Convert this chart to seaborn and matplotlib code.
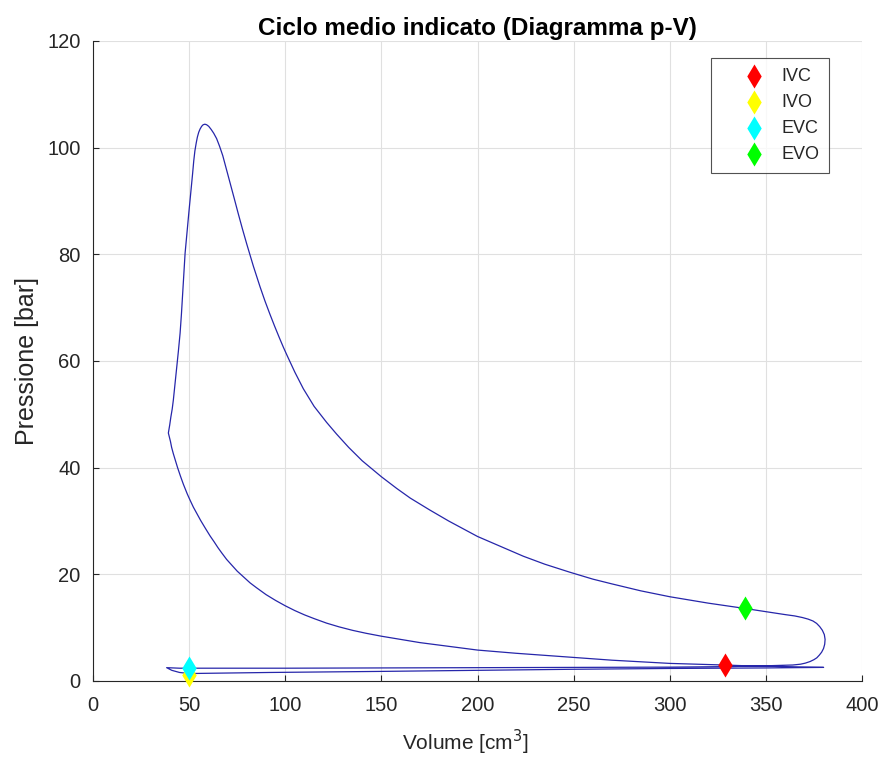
import matplotlib
matplotlib.use("Agg")
import matplotlib.pyplot as plt
import seaborn as sns
import pandas as pd

# ---- data ----
# compression (BDC -> TDC)
V_comp = [380, 360, 340, 328, 300, 270, 243, 220, 200, 185, 170, 160, 150, 142, 135, 128,
          121.5, 115, 110, 105, 100, 95, 90, 85, 81.7, 78, 75, 72, 69.5, 67, 65, 63, 60.9,
          58.5, 56, 54, 52.2, 50.5, 49, 47, 45.5, 44, 42.8, 41.8, 40.9, 40.3, 39.2]
p_comp = [2.55, 2.7, 2.85, 3.0, 3.3, 3.9, 4.6, 5.2, 5.8, 6.5, 7.2, 7.8, 8.4, 8.95, 9.5, 10.15,
          10.85, 11.7, 12.4, 13.2, 14.1, 15.1, 16.2, 17.5, 18.4, 19.6, 20.6, 21.8, 22.8, 24.0, 25.0, 26.1, 27.2,
          28.6, 30.1, 31.4, 32.6, 33.9, 35.1, 36.9, 38.4, 40.0, 41.4, 42.6, 43.8, 44.9, 46.5]
# combustion + expansion + blow-down
V_exp = [39.9, 40.5, 41.2, 41.8, 42.6, 43.5, 44.4, 45.3, 46.0, 46.6, 47.3, 47.9, 48.6, 49.2, 49.9,
         50.5, 51.2, 51.8, 52.4, 53, 53.7, 54.3, 55.0, 55.7, 56.5, 57.3, 58.2, 59.1, 60.2,
         61.5, 62.8, 64.3, 65.8, 67.5, 69.3, 71.3, 73.3, 75.5, 77.7, 80, 83.4, 86.9, 89.5, 92,
         94.5, 97, 99, 101, 105, 109.4, 115, 121.5, 126.7, 133, 140, 150,
         158, 165, 175, 185, 200, 211, 223.8, 235, 248, 260, 270, 285, 300, 320, 339.1, 350, 360, 365, 369,
         372, 374.5, 376.4, 378, 379.4, 380.4, 380.8, 380.6, 380.0, 379, 377.8, 376.5, 375, 373, 370.5, 368, 364]
p_exp = [48.0, 49.5, 51.0, 52.7, 55.5, 58.6, 61.8, 65.2, 68.8, 72.4, 76.4, 80.2, 83.0, 85.5, 88.0,
         90.2, 92.8, 95.1, 97.5, 99.4, 100.9, 102.0, 102.9, 103.5, 104.0, 104.3, 104.4, 104.3, 104.0,
         103.4, 102.7, 101.7, 100.3, 98.5, 96.1, 93.4, 90.7, 87.7, 84.8, 81.9, 77.8, 73.9, 71.2, 68.8,
         66.5, 64.3, 62.6, 61.0, 57.9, 54.8, 51.5, 48.5, 46.3, 43.8, 41.3, 38.3,
         36.1, 34.3, 32.1, 30.0, 27.1, 25.4, 23.4, 21.9, 20.4, 19.1, 18.2, 16.9, 15.8, 14.6, 13.6, 13.0, 12.45, 12.2, 11.9,
         11.6, 11.25, 10.8, 10.2, 9.5, 8.7, 7.8, 6.9, 6.1, 5.4, 4.85, 4.35, 4.0, 3.65, 3.35, 3.15, 3.0]
# exhaust stroke (BDC side -> TDC)
V_exh = [350, 330, 300, 250, 200, 150, 100, 60, 45, 38.3]
p_exh = [2.85, 2.7, 2.6, 2.55, 2.5, 2.45, 2.4, 2.4, 2.4, 2.5]
# intake stroke (TDC -> BDC)
V_int = [41, 45, 50, 70, 92, 150, 200, 250, 300, 350, 380]
p_int = [2.0, 1.6, 1.4, 1.5, 1.6, 1.8, 2.0, 2.2, 2.35, 2.45, 2.55]

# valve events
event_names = ["IVC", "IVO", "EVC", "EVO"]
event_V = [328.5, 50, 50, 339.1]
event_p = [3.0, 1.1, 2.4, 13.6]
event_colors = ["#ff0000", "#ffff00", "#00ffff", "#00ff00"]

xticks = [0, 50, 100, 150, 200, 250, 300, 350, 400]
yticks = [0, 20, 40, 60, 80, 100, 120]

# ---- build cycle ----
V_cycle = V_comp + V_exp + V_exh + V_int
p_cycle = p_comp + p_exp + p_exh + p_int
df = pd.DataFrame({"V": V_cycle, "p": p_cycle})

sns.set_style("whitegrid")
plt.rcParams["font.family"] = ["Liberation Sans", "DejaVu Sans"]

fig = plt.figure(figsize=(8.84, 7.6), dpi=100)
ax = fig.add_axes([93 / 884, 1 - 681 / 760, 769 / 884, 640 / 760])

sns.lineplot(data=df, x="V", y="p", sort=False, estimator=None, ax=ax,
             color="#2626aa", linewidth=0.9)

for name, v, p, c in zip(event_names, event_V, event_p, event_colors):
    sns.scatterplot(x=[v], y=[p], ax=ax, marker="d", s=150, color=c,
                    edgecolor=c, linewidth=0, label=name, zorder=5, clip_on=False)

ax.set_xlim(0, 400)
ax.set_ylim(0, 120)
ax.set_xticks(xticks)
ax.set_yticks(yticks)
ax.grid(True, color="#e0e0e0", linewidth=0.8)
ax.set_axisbelow(True)
for side in ["top", "right"]:
    ax.spines[side].set_visible(False)
for side in ["left", "bottom"]:
    ax.spines[side].set_color("#262626")
    ax.spines[side].set_linewidth(0.8)
ax.tick_params(direction="in", length=4, width=0.8, colors="#262626",
               labelsize=14.5, bottom=True, left=True)
ax.tick_params(axis="x", pad=11)
ax.tick_params(axis="y", pad=9)
ax.set_facecolor("white")

ax.set_xlabel("Volume [cm$^3$]", fontsize=15, color="#262626")
ax.xaxis.set_label_coords(0.484, -0.073)
ax.set_ylabel("Pressione [bar]", fontsize=18, color="#262626", labelpad=6)
ax.set_title("Ciclo medio indicato (Diagramma p-V)", fontsize=17.5,
             fontweight="bold", color="black", pad=4)

leg = ax.legend(loc="upper left", bbox_to_anchor=((711 - 93) / 769, (681 - 58) / 640),
                borderaxespad=0, fontsize=13, frameon=True, fancybox=False,
                edgecolor="#262626", handletextpad=-0.35, labelspacing=0.5,
                borderpad=0.55, handlelength=3.7)
leg.get_frame().set_linewidth(0.8)

fig.savefig("out.png", dpi=100, facecolor="white")
